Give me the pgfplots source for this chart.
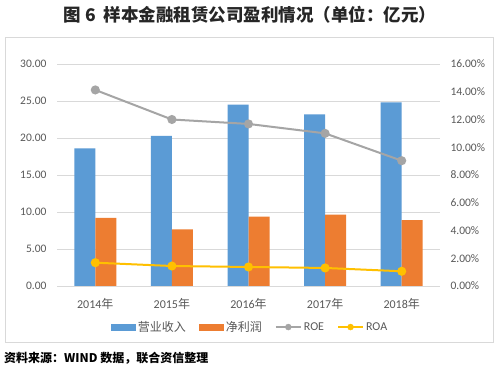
\documentclass[border=0pt]{standalone}
\usepackage{pgfplots}
\pgfplotsset{compat=1.18}
\usepackage{fontspec}
\setmainfont{Carlito}
\newfontfamily\cjk{Noto Sans CJK SC}
\definecolor{barblue}{HTML}{5B9BD5}
\definecolor{barorange}{HTML}{ED7D31}
\definecolor{roegray}{HTML}{A5A5A5}
\definecolor{roayellow}{HTML}{FFC000}
\definecolor{gridgray}{HTML}{D9D9D9}
\definecolor{labelgray}{HTML}{595959}
\definecolor{framegray}{HTML}{D9D9D9}
\begin{document}
\begin{tikzpicture}
\useasboundingbox (0,0) rectangle (500pt,371pt);
\fill[white] (0,0) rectangle (500pt,371pt);
\draw[framegray, line width=0.8pt] (5pt,29pt) rectangle (493pt,334pt);
\node[font=\cjk\bfseries\fontsize{17.5}{20}\selectfont, text=black!85] at (250pt,356.5pt) {图 6\ \ 样本金融租赁公司盈利情况（单位：亿元）};
\node[anchor=west, font=\cjk\bfseries\fontsize{12}{14}\selectfont, text=black, inner sep=0pt] at (4pt,13pt) {资料来源：WIND 数据，联合资信整理};
\begin{axis}[
  at={(57pt,85pt)}, anchor=south west, scale only axis,
  width=383pt, height=222pt,
  xmin=-0.5, xmax=4.5, ymin=0, ymax=30,
  ytick={0,5,...,30},
  xtick={0,1,2,3,4},
  xticklabels={2014{\cjk 年},2015{\cjk 年},2016{\cjk 年},2017{\cjk 年},2018{\cjk 年}},
  ybar=0pt, bar width=21pt,
  axis line style={draw=none},
  major tick length=0pt,
  ymajorgrids, grid style={gridgray, line width=0.6pt},
  yticklabel={\pgfmathprintnumber[fixed,fixed zerofill,precision=2]{\tick}},
  /pgf/number format/assume math mode=true,
  ticklabel style={font=\fontsize{11.5}{13}\selectfont, text=labelgray},
  yticklabel style={xshift=-7pt},
  xticklabel style={yshift=-9pt, font=\fontsize{12}{14}\selectfont},
  legend columns=4,
  legend style={at={(0.504,-0.185)}, anchor=center, draw=none, fill=none,
    font=\fontsize{12}{14}\selectfont, text=labelgray,
    /tikz/every even column/.append style={column sep=11pt}},
  legend cell align=left,
]
\addplot[fill=barblue, draw=none,
  legend image code/.code={\fill[barblue] (0pt,-3.5pt) rectangle (25pt,3.5pt);}]
  coordinates {(0,18.6) (1,20.3) (2,24.5) (3,23.2) (4,24.8)};
\addlegendentry{\cjk 营业收入}
\addplot[fill=barorange, draw=none,
  legend image code/.code={\fill[barorange] (0pt,-3.5pt) rectangle (25pt,3.5pt);}]
  coordinates {(0,9.2) (1,7.65) (2,9.37) (3,9.64) (4,8.9)};
\addlegendentry{\cjk 净利润}
\addlegendimage{legend image code/.code={\draw[roegray, line width=2pt] (0pt,0pt) -- (25pt,0pt); \fill[roegray] (12.5pt,0pt) circle (3pt);}}
\addlegendentry{ROE}
\addlegendimage{legend image code/.code={\draw[roayellow, line width=2pt] (0pt,0pt) -- (25pt,0pt); \fill[roayellow] (12.5pt,0pt) circle (3pt);}}
\addlegendentry{ROA}
\end{axis}
\begin{axis}[
  at={(57pt,85pt)}, anchor=south west, scale only axis,
  width=383pt, height=222pt,
  xmin=-0.5, xmax=4.5, ymin=0, ymax=16,
  ytick={0,2,...,16},
  axis x line=none, axis y line*=right,
  axis line style={draw=none},
  major tick length=0pt,
  yticklabel={\pgfmathprintnumber[fixed,fixed zerofill,precision=2]{\tick}\%},
  /pgf/number format/assume math mode=true,
  ticklabel style={font=\fontsize{11.5}{13}\selectfont, text=labelgray},
  yticklabel style={xshift=7pt},
  clip=false,
]
\addplot[roegray, line width=2pt, mark=*, mark size=3.5pt, mark options={fill=roegray, draw=roegray}]
  coordinates {(0,14.13) (1,12.0) (2,11.68) (3,11.0) (4,9.03)};
\addplot[roayellow, line width=2pt, mark=*, mark size=3.5pt, mark options={fill=roayellow, draw=roayellow}]
  coordinates {(0,1.68) (1,1.44) (2,1.37) (3,1.3) (4,1.06)};
\end{axis}
\end{tikzpicture}
\end{document}
